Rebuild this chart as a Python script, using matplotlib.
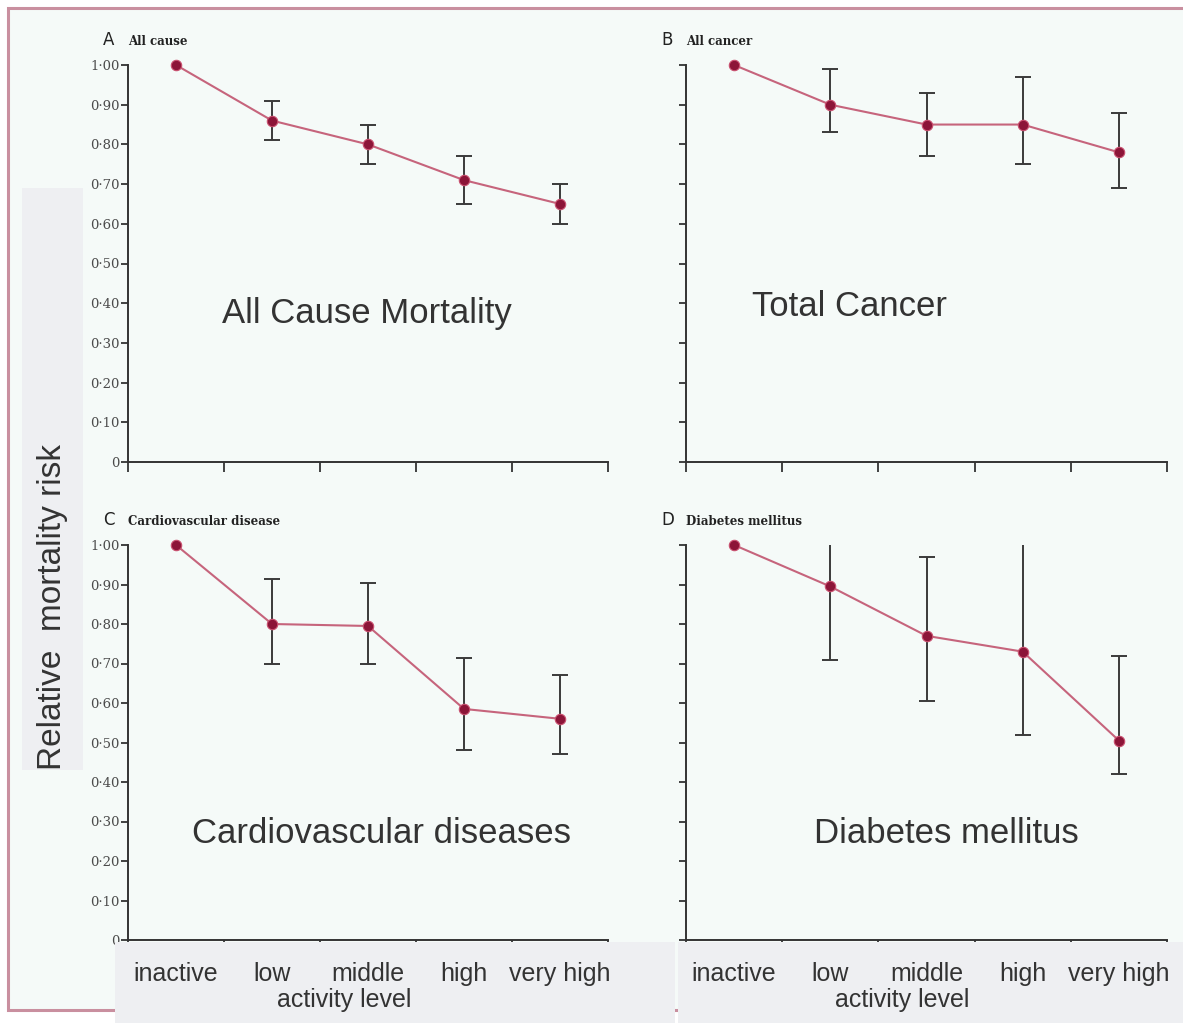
import matplotlib
matplotlib.use('Agg')
import matplotlib.pyplot as plt
from matplotlib.patches import Rectangle
from matplotlib.transforms import blended_transform_factory

W, H = 1183, 1023

categories = ['inactive', 'low', 'middle', 'high', 'very high']
y_ticks = [0, 0.1, 0.2, 0.3, 0.4, 0.5, 0.6, 0.7, 0.8, 0.9, 1.0]
y_tick_labels = ['0', '0·10', '0·20', '0·30', '0·40', '0·50',
                 '0·60', '0·70', '0·80', '0·90', '1·00']

# hazard ratios with 95% CI, reference = inactive
all_cause_hr = [1.00, 0.86, 0.80, 0.71, 0.65]
all_cause_lo = [1.00, 0.81, 0.75, 0.65, 0.60]
all_cause_hi = [1.00, 0.91, 0.85, 0.77, 0.70]

cancer_hr = [1.00, 0.90, 0.85, 0.85, 0.78]
cancer_lo = [1.00, 0.83, 0.77, 0.75, 0.69]
cancer_hi = [1.00, 0.99, 0.93, 0.97, 0.88]

cvd_hr = [1.00, 0.80, 0.795, 0.585, 0.56]
cvd_lo = [1.00, 0.70, 0.70, 0.48, 0.47]
cvd_hi = [1.00, 0.915, 0.905, 0.715, 0.67]

diab_hr = [1.00, 0.895, 0.77, 0.73, 0.505]
diab_lo = [1.00, 0.71, 0.605, 0.52, 0.42]
diab_hi = [1.00, 1.12, 0.97, 1.03, 0.72]

panels = [
    ('A', 'All cause', 'All Cause Mortality', all_cause_hr, all_cause_lo, all_cause_hi),
    ('B', 'All cancer', 'Total Cancer', cancer_hr, cancer_lo, cancer_hi),
    ('C', 'Cardiovascular disease', 'Cardiovascular diseases', cvd_hr, cvd_lo, cvd_hi),
    ('D', 'Diabetes mellitus', 'Diabetes mellitus', diab_hr, diab_lo, diab_hi),
]

# axes boxes in pixels: left, top(=1.00), right, bottom(=0)
boxes = [(128, 65, 608, 462), (686, 65, 1167, 462),
         (128, 545, 608, 940), (686, 545, 1167, 940)]
# big caption centre x / baseline y in pixels
captions = [(367, 323), (850, 316), (382, 843), (946, 843)]

LINE = '#c6647c'
DOT = '#8c1538'
INK = '#333333'


def fx(px):
    return px / W


def fy(py):
    return 1 - py / H


fig = plt.figure(figsize=(W / 100, H / 100), dpi=100)
fig.patch.set_facecolor('white')

# page background with the pink frame
fig.add_artist(Rectangle((fx(8), fy(1010)), fx(1300), fy(8) - fy(1010),
                         transform=fig.transFigure, facecolor='#f5faf8',
                         edgecolor='#c98f9f', lw=2.2, zorder=-5))

x = [i + 0.5 for i in range(len(categories))]

for (letter, title, caption, hr, lo, hi), box, cap in zip(panels, boxes, captions):
    left, top, right, bottom = box
    ax = fig.add_axes([fx(left), fy(bottom), fx(right - left), (bottom - top) / H])
    ax.patch.set_alpha(0)
    ax.set_xlim(0, 5)
    ax.set_ylim(0, 1.0)

    yerr = [[h - l for h, l in zip(hr[1:], lo[1:])],
            [u - h for h, u in zip(hr[1:], hi[1:])]]
    ax.errorbar(x[1:], hr[1:], yerr=yerr, fmt='none', ecolor='#3a3a3a',
                elinewidth=1.4, capsize=6, capthick=1.4, zorder=2)
    ax.plot(x, hr, color=LINE, lw=1.5, zorder=3, clip_on=False)
    ax.plot(x, hr, 'o', color=DOT, ms=7.5, mec='#c9506f', mew=0.8,
            zorder=4, clip_on=False)

    for s in ['top', 'right']:
        ax.spines[s].set_visible(False)
    for s in ['left', 'bottom']:
        ax.spines[s].set_color(INK)
        ax.spines[s].set_linewidth(1.4)

    ax.set_xticks(range(6))
    ax.set_xticklabels([])
    ax.set_yticks(y_ticks)
    if letter in 'AC':
        ax.set_yticklabels(y_tick_labels, family='DejaVu Serif', fontsize=9.5,
                           color='#4a4a4a')
    else:
        ax.set_yticklabels([])
    ax.tick_params(axis='y', direction='out', length=5, width=1.3, color=INK, pad=1)
    ax.tick_params(axis='x', direction='out', length=7, width=1.3, color=INK)

    fig.text(fx(left - 25), fy(top - 20), letter, family='DejaVu Sans',
             fontsize=12, color='#222222', va='baseline')
    fig.text(fx(left), fy(top - 20), title, family='DejaVu Serif',
             fontsize=8.5, color='#222222', weight='bold', va='baseline')
    fig.text(fx(cap[0]), fy(cap[1]), caption, family='Liberation Sans',
             fontsize=25, color=INK, ha='center', va='baseline')

    if letter in 'CD':
        trans = blended_transform_factory(ax.transData, fig.transFigure)
        for xi, name in zip(x, categories):
            fig.text(xi, fy(981), name, transform=trans, family='Liberation Sans',
                     fontsize=18, color=INK, ha='center', va='baseline', zorder=6)
        fig.text(2.25, fy(1007), 'activity level', transform=trans,
                 family='Liberation Sans', fontsize=18, color=INK,
                 ha='center', va='baseline', zorder=6)

# grey label panels laid over the figure
grey = '#eeeff2'
for l, t, r, b in [(22, 188, 83, 770), (115, 942, 675, 1023), (678, 942, 1183, 1023)]:
    fig.add_artist(Rectangle((fx(l), fy(b)), fx(r - l), (b - t) / H,
                             transform=fig.transFigure, facecolor=grey,
                             edgecolor='none', zorder=5))

fig.text(fx(52), fy(607), 'Relative  mortality risk', family='Liberation Sans',
         fontsize=24, color=INK, rotation=90, ha='center', va='center', zorder=6)

fig.savefig('out.png', dpi=100, facecolor=fig.get_facecolor())
